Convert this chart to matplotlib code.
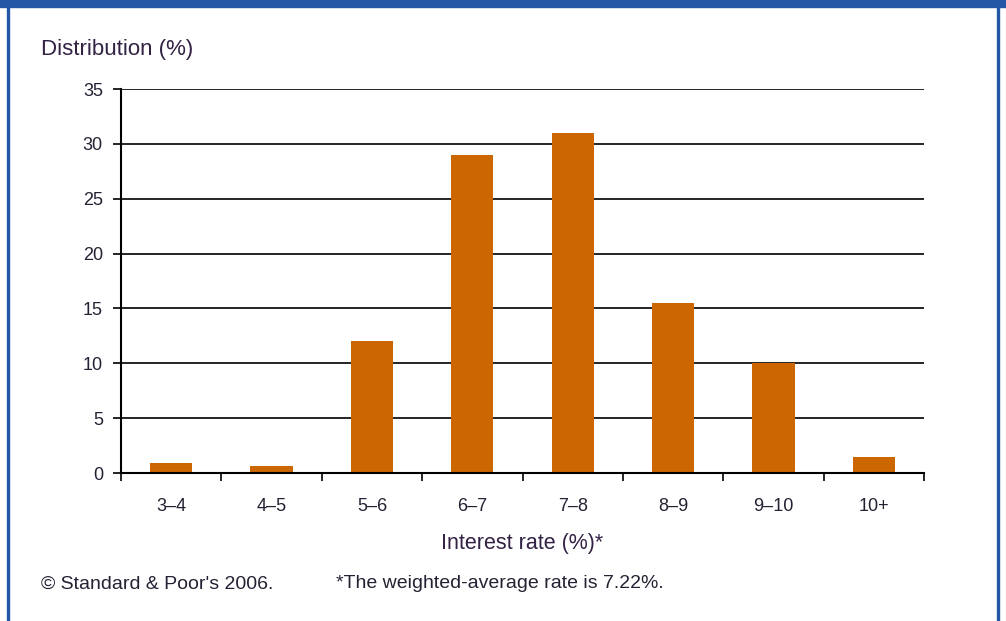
import matplotlib
matplotlib.use("Agg")
import matplotlib.pyplot as plt
from matplotlib.patches import Rectangle

categories = ["3\u20134", "4\u20135", "5\u20136", "6\u20137", "7\u20138", "8\u20139", "9\u201310", "10+"]
values = [0.9, 0.6, 12.0, 29.0, 31.0, 15.5, 10.0, 1.5]
yticks = [0, 5, 10, 15, 20, 25, 30, 35]

plt.rcParams['font.family'] = ['Liberation Sans', 'DejaVu Sans']
W, H = 1006, 621
fig = plt.figure(figsize=(W / 100, H / 100), dpi=100)
fig.patch.set_facecolor('white')

text_color = '#222233'
border = '#2557A7'

# frame decorations
fig.patches.append(Rectangle((0, 1 - 7 / H), 1, 7 / H, transform=fig.transFigure,
                             color=border, zorder=0))
fig.patches.append(Rectangle((7 / W, 0), 2 / W, 1, transform=fig.transFigure,
                             color=border, zorder=0))
fig.patches.append(Rectangle((997 / W, 0), 2 / W, 1, transform=fig.transFigure,
                             color=border, zorder=0))

left, right, top, bottom = 121, 924, 89, 473
ax = fig.add_axes([left / W, 1 - bottom / H, (right - left) / W, (bottom - top) / H])

x = list(range(len(categories)))
ax.bar(x, values, width=0.42, color='#CC6600', zorder=3)

ax.set_xlim(-0.5, len(categories) - 0.5)
ax.set_ylim(0, 35)
ax.set_yticks(yticks)
ax.set_yticklabels([str(t) for t in yticks], fontsize=13, color=text_color)
ax.set_xticks(x)
ax.set_xticklabels(categories, fontsize=13, color=text_color)
ax.tick_params(axis='x', length=0, pad=18)
ax.set_xticks([i - 0.5 for i in range(len(categories) + 1)], minor=True)
ax.tick_params(axis='x', which='minor', length=6, width=1.2, color='black', direction='out')
ax.tick_params(axis='y', length=6, width=1.2, color='black', direction='out', pad=7)

ax.grid(axis='y', color='black', linewidth=1.2, zorder=1)
ax.set_axisbelow(True)
for s in ['top', 'right']:
    ax.spines[s].set_visible(False)
for s in ['left', 'bottom']:
    ax.spines[s].set_linewidth(1.5)
    ax.spines[s].set_color('black')
    ax.spines[s].set_zorder(4)

ax.set_xlabel("Interest rate (%)*", fontsize=15.5, color='#332244', labelpad=13)

fig.text(41 / W, 1 - 50 / H, "Distribution (%)", fontsize=16, color='#332244',
         ha='left', va='center')
fig.text(41 / W, 1 - 584 / H, "\u00a9 Standard & Poor's 2006.", fontsize=14,
         color=text_color, ha='left', va='center')
fig.text(336 / W, 1 - 584 / H, "*The weighted-average rate is 7.22%.", fontsize=14,
         color=text_color, ha='left', va='center')

fig.savefig("out.png", dpi=100)
